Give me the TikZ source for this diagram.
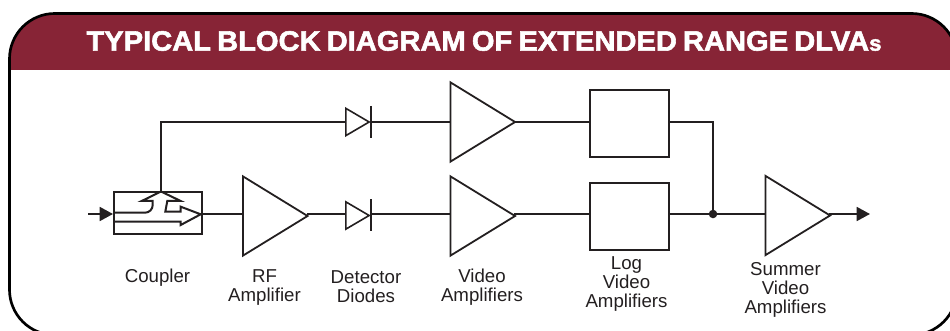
\documentclass[tikz,border=0pt]{standalone}
\usepackage{fontspec}
\setmainfont{Liberation Sans}
\newfontfamily\titlefont[FakeStretch=1.04,FakeBold=2,WordSpace=0.75]{Liberation Sans Bold}
\usetikzlibrary{shapes,arrows,positioning,arrows.meta}
\definecolor{bandred}{RGB}{135,36,54}
\definecolor{inkgray}{RGB}{35,31,32}

\begin{document}
\begin{tikzpicture}[
    x=0.75pt, y=-0.75pt,
    every node/.style={align=center},
    amp/.style={isosceles triangle, isosceles triangle stretches, shape border rotate=0, anchor=lower side, minimum height=48.5pt, minimum width=59.5pt, inner sep=0pt, draw=inkgray, line width=1.35pt},
    diode/.style={isosceles triangle, isosceles triangle stretches, shape border rotate=0, anchor=lower side, minimum height=17.5pt, minimum width=20.5pt, inner sep=0pt, draw=inkgray, line width=1.2pt},
    logbox/.style={rectangle, anchor=north west, minimum width=59.25pt, minimum height=50.25pt, inner sep=0pt, draw=inkgray, line width=1.35pt},
    lbl/.style={font=\fontsize{14pt}{14.4pt}\selectfont, text=inkgray, inner sep=0pt},
    wire/.style={draw=inkgray, line width=1.35pt},
    tipwire/.style={wire, shorten <=-2.5pt},
    arrow/.style={wire, -{Triangle[length=10pt,width=10.5pt]}}
]
\useasboundingbox (0,0) rectangle (950,331);
\clip (0,0) rectangle (950,331);

% Frame and title band
\begin{scope}
\clip[rounded corners=34pt] (9.5,13.5) rectangle (957,335);
\fill[bandred] (0,0) rectangle (950,70);
\end{scope}
\draw[black, line width=2pt, rounded corners=34pt] (9.5,13.5) rectangle (957,335);
\node[font=\titlefont\fontsize{21pt}{21pt}\selectfont, text=white, inner sep=0pt] (title) at (484,41) {TYPICAL BLOCK DIAGRAM OF EXTENDED RANGE DLVA{\fontsize{16pt}{16pt}\selectfont s}};

% Blocks
\coordinate (input) at (88,214);
\node[logbox, minimum width=66pt, minimum height=31.5pt] (coupler) at (113,191) {};
\node[amp] (rfamp) at (242,216) {};
\node[diode] (diodetop) at (345,122) {};
\node[diode] (diodelow) at (345,215.5) {};
\node[amp] (vidtop) at (449.5,122) {};
\node[amp] (vidlow) at (449.5,216) {};
\node[logbox] (logtop) at (589,89) {};
\node[logbox] (loglow) at (589,182) {};
\node[amp] (summer) at (764.5,215.5) {};
\coordinate (output) at (870,214);
\coordinate (tap) at (161,191.5);
\coordinate (corner) at (161,122);
\coordinate (join) at (713,214);
\coordinate (turn) at (713,122);

% Diode bars
\draw[wire] ([yshift=12pt]diodetop.apex) -- ([yshift=-12pt]diodetop.apex);
\draw[wire] ([yshift=12pt]diodelow.apex) -- ([yshift=-12pt]diodelow.apex);

% Coupler inside
\draw[wire, line width=1.5pt, line join=miter] (113.3,212.7) -- (145,212.7) to[out=0,in=-90] (152.7,205) -- (152.7,201) -- (141.7,201) -- (tap) -- (180.7,201) -- (167.3,201) -- (165.3,211.7) -- (180.7,211.7) -- (180.7,206.7) -- (200.7,214.3) -- (180.7,225) -- (180.7,221.7) -- (113.3,221.7);

% Connections
\draw[arrow] (input) -- (coupler.west |- input);
\draw[wire] (coupler.east |- input) -- (rfamp.lower side |- input);
\draw[tipwire] (rfamp.apex |- input) -- (diodelow.lower side |- input);
\draw[wire] (diodelow.apex |- input) -- (vidlow.lower side |- input);
\draw[tipwire] (vidlow.apex |- input) -- (loglow.west |- input);
\draw[wire] (loglow.east |- join) -- (summer.lower side |- join);
\draw[wire] (tap) -- (corner) -- (diodetop.lower side);
\draw[wire] (diodetop.apex) -- (vidtop.lower side);
\draw[tipwire] (vidtop.apex) -- (logtop.west |- vidtop.apex);
\draw[wire] (logtop.east |- turn) -- (turn) -- (join);
\fill[inkgray] (join) circle (3.2pt);
\draw[arrow, tipwire] (summer.apex |- join) -- (output);

% Labels
\node[lbl] (lblcoupler) at (157.5,277.5) {Coupler};
\node[lbl] (lblrf) at (264.5,287.5) {RF\\Amplifier};
\node[lbl] (lbldiode) at (366,287) {Detector\\Diodes};
\node[lbl] (lblvideo) at (482,287) {Video\\Amplifiers};
\node[lbl] (lbllog) at (626.5,284) {Log\\Video\\Amplifiers};
\node[lbl] (lblsummer) at (785.5,290) {Summer\\Video\\Amplifiers};

\end{tikzpicture}
\end{document}
